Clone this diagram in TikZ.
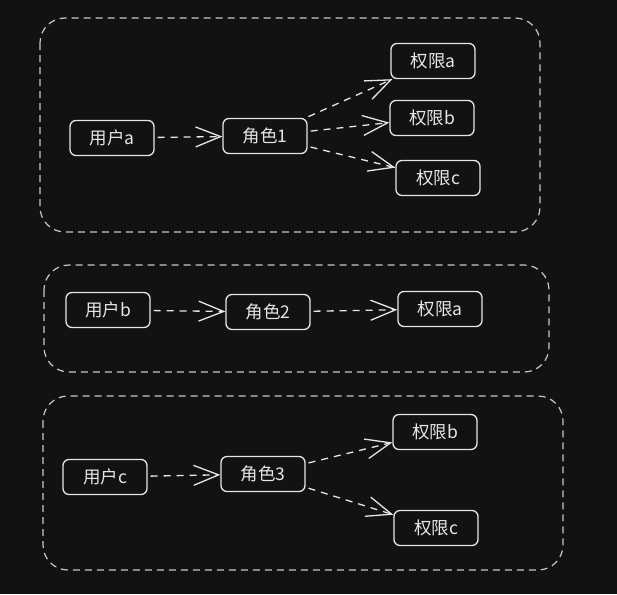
\documentclass[tikz,border=0pt]{standalone}
\usepackage{fontspec}
\newfontfamily\cjk{Noto Sans CJK SC}
\usepackage{xcolor}
\usetikzlibrary{arrows.meta, positioning}

\definecolor{bgdark}{HTML}{121212}
\definecolor{inkwhite}{HTML}{E6E6E6}
\definecolor{groupgray}{HTML}{C8C8C8}

\begin{document}
\begin{tikzpicture}[x=1pt, y=-1pt,
    item/.style={draw=inkwhite, line width=1.3pt, rounded corners=6pt, minimum width=84pt, minimum height=35pt, inner sep=2pt, text=inkwhite, font=\cjk\fontsize{17.5}{20}\selectfont},
    group/.style={draw=groupgray, line width=1.2pt, dash pattern=on 7pt off 5pt, rounded corners=25pt},
    link/.style={draw=inkwhite, line width=1.3pt, dash pattern=on 7pt off 6pt, shorten <=3pt},
    >={Straight Barb[length=25pt, width=20pt, line width=1.3pt]}]
      \useasboundingbox[fill=bgdark] (0,0) rectangle (617,594);

      % groups
      \draw[group] (40,18) rectangle (540,232);
      \draw[group] (44,265) rectangle (549,372);
      \draw[group] (43,396) rectangle (563,570);

      % user a
      \node[item] (user_a) at (112,138) {用户a};
      \node[item] (role_1) at (265,136) {角色1};
      \node[item] (perm_a1) at (433,61) {权限a};
      \node[item] (perm_b1) at (432,118) {权限b};
      \node[item] (perm_c1) at (438,178) {权限c};
      \draw[link, ->] (user_a) -- (role_1);
      \draw[link, ->] (role_1) -- (perm_a1);
      \draw[link, ->] (role_1) -- (perm_b1);
      \draw[link, ->] (role_1) -- (perm_c1);

      % user b
      \node[item] (user_b) at (108,310) {用户b};
      \node[item] (role_2) at (268,312) {角色2};
      \node[item] (perm_a2) at (440,309) {权限a};
      \draw[link, ->] (user_b) -- (role_2);
      \draw[link, ->] (role_2) -- (perm_a2);

      % user c
      \node[item] (user_c) at (105,477) {用户c};
      \node[item] (role_3) at (263,474) {角色3};
      \node[item] (perm_b3) at (435,432) {权限b};
      \node[item] (perm_c3) at (436,528) {权限c};
      \draw[link, ->] (user_c) -- (role_3);
      \draw[link, ->] (role_3) -- (perm_b3);
      \draw[link, ->] (role_3) -- (perm_c3);
    \end{tikzpicture}
\end{document}
